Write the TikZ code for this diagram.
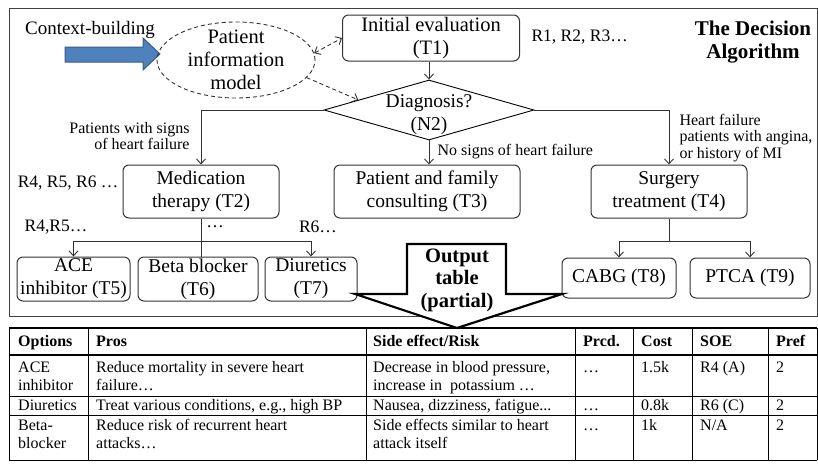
\documentclass[tikz,border=0pt]{standalone}
\usepackage{fontspec}
\setmainfont{Liberation Serif}
\usetikzlibrary{arrows.meta,shapes.geometric,calc}

\definecolor{lineclr}{HTML}{333333}
\definecolor{blueF}{HTML}{4F81BD}
\definecolor{blueD}{HTML}{385D8A}

\newcommand\dgMain{\fontsize{19.5}{23}\selectfont}
\newcommand\dgTop{\fontsize{20.5}{23}\selectfont}
\newcommand\dgSmall{\fontsize{16}{16.5}\selectfont}
\newcommand\dgRef{\fontsize{17.5}{20}\selectfont}
\newcommand\dgTab{\fontsize{16}{18}\selectfont}
\newcommand\dgOut{\fontsize{20.5}{22.5}\selectfont\bfseries}
\newcommand\dgTitle{\fontsize{21}{23}\selectfont\bfseries}

\begin{document}
\begin{tikzpicture}[x=1pt,y=-1pt,
  box/.style={draw=lineclr, line width=1pt, rounded corners=6pt, align=center,
              font=\dgMain, inner sep=0pt},
  conn/.style={draw=lineclr, line width=0.9pt},
  flow/.style={conn, -{Straight Barb[length=5pt,width=9pt]}},
  dflow/.style={conn, dash pattern=on 4pt off 3pt},
  cell/.style={font=\dgTab, anchor=north west, align=left, inner sep=0pt},
  hcell/.style={cell, font=\dgTab\bfseries},
  tline/.style={draw=black, line width=0.9pt}]
\useasboundingbox (0,0) rectangle (818,469);

% outer frame of the decision algorithm
\draw[black!75, line width=1pt] (9,8) rectangle (817,316);

% context-building input
\node[font=\fontsize{19}{22}\selectfont] (ctx) at (90,30) {Context-building};
\draw[fill=blueF, draw=blueD, line width=1pt]
  (65,47) -- (143,47) -- (143,38) -- (160,54) -- (143,70) -- (143,62) -- (65,62) -- cycle;

% patient information model
\node[ellipse, draw=lineclr, line width=0.9pt, dash pattern=on 4pt off 3pt,
      minimum width=158pt, minimum height=76pt, inner sep=0pt,
      label={[font=\dgTop, align=center]center:Patient\\information\\model}]
      (pim) at (236,60) {};

% main flow
\node[box, font=\dgTop, minimum width=177pt, minimum height=46pt] (t1) at (431,38) {Initial evaluation\\(T1)};
\node[font=\dgRef, anchor=west] (r123) at (528,37) {R1, R2, R3…};
\node[font=\dgTitle, align=center] (title) at (753,42) {The Decision\\Algorithm};

\node[diamond, draw=black, line width=0.9pt, minimum width=210pt, minimum height=60pt,
      inner sep=0pt,
      label={[font=\dgMain, align=center, yshift=-5pt]center:Diagnosis?\\(N2)}]
      (n2) at (429,110) {};

\node[box, minimum width=156pt, minimum height=53pt] (med) at (201,191.5) {Medication\\therapy (T2)};
\node[box, minimum width=186pt, minimum height=53pt] (t3) at (427,191.5) {Patient and family\\consulting (T3)};
\node[box, minimum width=156pt, minimum height=53pt] (t4) at (669,191.5) {Surgery\\treatment (T4)};

\node[box, minimum width=113pt, minimum height=44pt] (ace) at (73.5,279) {ACE\\inhibitor (T5)};
\node[box, minimum width=120pt, minimum height=44pt] (beta) at (198,279) {Beta blocker\\(T6)};
\node[box, minimum width=92pt, minimum height=44pt] (diu) at (311,279) {Diuretics\\(T7)};

\node[box, minimum width=114pt, minimum height=40pt] (cabg) at (619,278) {CABG (T8)};
\node[box, minimum width=120pt, minimum height=40pt] (ptca) at (750,278) {PTCA (T9)};

% links between information model and flow
\draw[dflow, {Straight Barb[length=5pt,width=9pt]}-{Straight Barb[length=5pt,width=9pt]}]
  (pim.5) -- (t1.west);
\draw[dflow, -{Straight Barb[length=5pt,width=9pt]}]
  (pim.-14) -- ($(n2.west)!0.33!(n2.north)$);

% branches
\draw[flow] (t1.south -| n2.north) -- (n2.north);
\draw[flow] (n2.west) -| (med.north);
\draw[flow] (n2.east) -| (t4.north);
\draw[flow] (n2.south) -- (n2.south |- t3.north);

\node[font=\dgSmall, align=right, anchor=east] (lblL) at (193,136) {Patients with signs\\of heart failure};
\node[font=\dgSmall, anchor=west] (lblM) at (434,152) {No signs of heart failure};
\node[font=\dgSmall, align=left, anchor=west] (lblR) at (676,138) {Heart failure\\patients with angina,\\or history of MI};

\node[font=\dgRef, anchor=east] (r456) at (122,183) {R4, R5, R6 …};
\node[font=\dgRef] (r45) at (56,227) {R4,R5…};
\node[font=\dgRef] (rdots) at (215,227) {…};
\node[font=\dgRef] (r6) at (318,227) {R6…};

% medication options
\coordinate (jl) at (med.south |- 0,241);
\draw[conn] (med.south) -- (med.south |- beta.north);
\draw[flow] (jl) -| (ace.north);
\draw[flow] (jl) -| (diu.north);

% surgery options
\coordinate (jr) at (t4.south |- 0,241);
\draw[conn] (t4.south) -- (jr);
\draw[flow] (jr) -| (cabg.north);
\draw[flow] (jr) -| (ptca.north);

% output arrow towards the table
\draw[black, line width=2.2pt, fill=white, line join=miter]
  (407,244) -- (506,244) -- (506,294) -- (562,294) -- (457,328) -- (355,294) -- (407,294) -- cycle;
\node[font=\dgOut, align=center] (outlbl) at (457,280) {Output\\table\\(partial)};

% output table: rules
\draw[tline, line width=1.3pt] (9,328) -- (817,328);
\draw[tline, line width=1.6pt] (9,355) -- (817,355);
\draw[tline] (9,396) -- (817,396);
\draw[tline] (9,415) -- (817,415);
\draw[tline] (9,460) -- (817,460);
\foreach \cx in {9,88,366,575,633,692,768,817}
  \draw[tline] (\cx,328) -- (\cx,460);

% header row
\node[hcell] (hOpt) at (18,333.4) {\strut Options};
\node[hcell] (hPro) at (96,333.4) {\strut Pros};
\node[hcell] (hSide) at (373,333.4) {\strut Side effect/Risk};
\node[hcell] (hPrcd) at (583,333.4) {\strut Prcd.};
\node[hcell] (hCost) at (641,333.4) {\strut Cost};
\node[hcell] (hSoe) at (700,333.4) {\strut SOE};
\node[hcell] (hPref) at (776,333.4) {\strut Pref};

% ACE inhibitor row
\node[cell] (aOpt) at (18,359.4) {\strut ACE\\inhibitor};
\node[cell] (aPro) at (96,359.4) {\strut Reduce mortality in severe heart\\failure…};
\node[cell] (aSide) at (373,359.4) {\strut Decrease in blood pressure,\\increase in\ \ potassium …};
\node[cell] (aPrcd) at (583,359.4) {\strut …};
\node[cell] (aCost) at (641,359.4) {\strut 1.5k};
\node[cell] (aSoe) at (700,359.4) {\strut R4 (A)};
\node[cell] (aPref) at (776,359.4) {\strut 2};

% diuretics row
\node[cell] (dOpt) at (18,397.4) {\strut Diuretics};
\node[cell] (dPro) at (96,397.4) {\strut Treat various conditions, e.g., high BP};
\node[cell] (dSide) at (373,397.4) {\strut Nausea, dizziness, fatigue...};
\node[cell] (dPrcd) at (583,397.4) {\strut …};
\node[cell] (dCost) at (641,397.4) {\strut 0.8k};
\node[cell] (dSoe) at (700,397.4) {\strut R6 (C)};
\node[cell] (dPref) at (776,397.4) {\strut 2};

% beta-blocker row
\node[cell] (bOpt) at (18,417.4) {\strut Beta-\\blocker};
\node[cell] (bPro) at (96,417.4) {\strut Reduce risk of recurrent heart\\attacks…};
\node[cell] (bSide) at (373,417.4) {\strut Side effects similar to heart\\attack itself};
\node[cell] (bPrcd) at (583,417.4) {\strut …};
\node[cell] (bCost) at (641,417.4) {\strut 1k};
\node[cell] (bSoe) at (700,417.4) {\strut N/A};
\node[cell] (bPref) at (776,417.4) {\strut 2};
\end{tikzpicture}
\end{document}
